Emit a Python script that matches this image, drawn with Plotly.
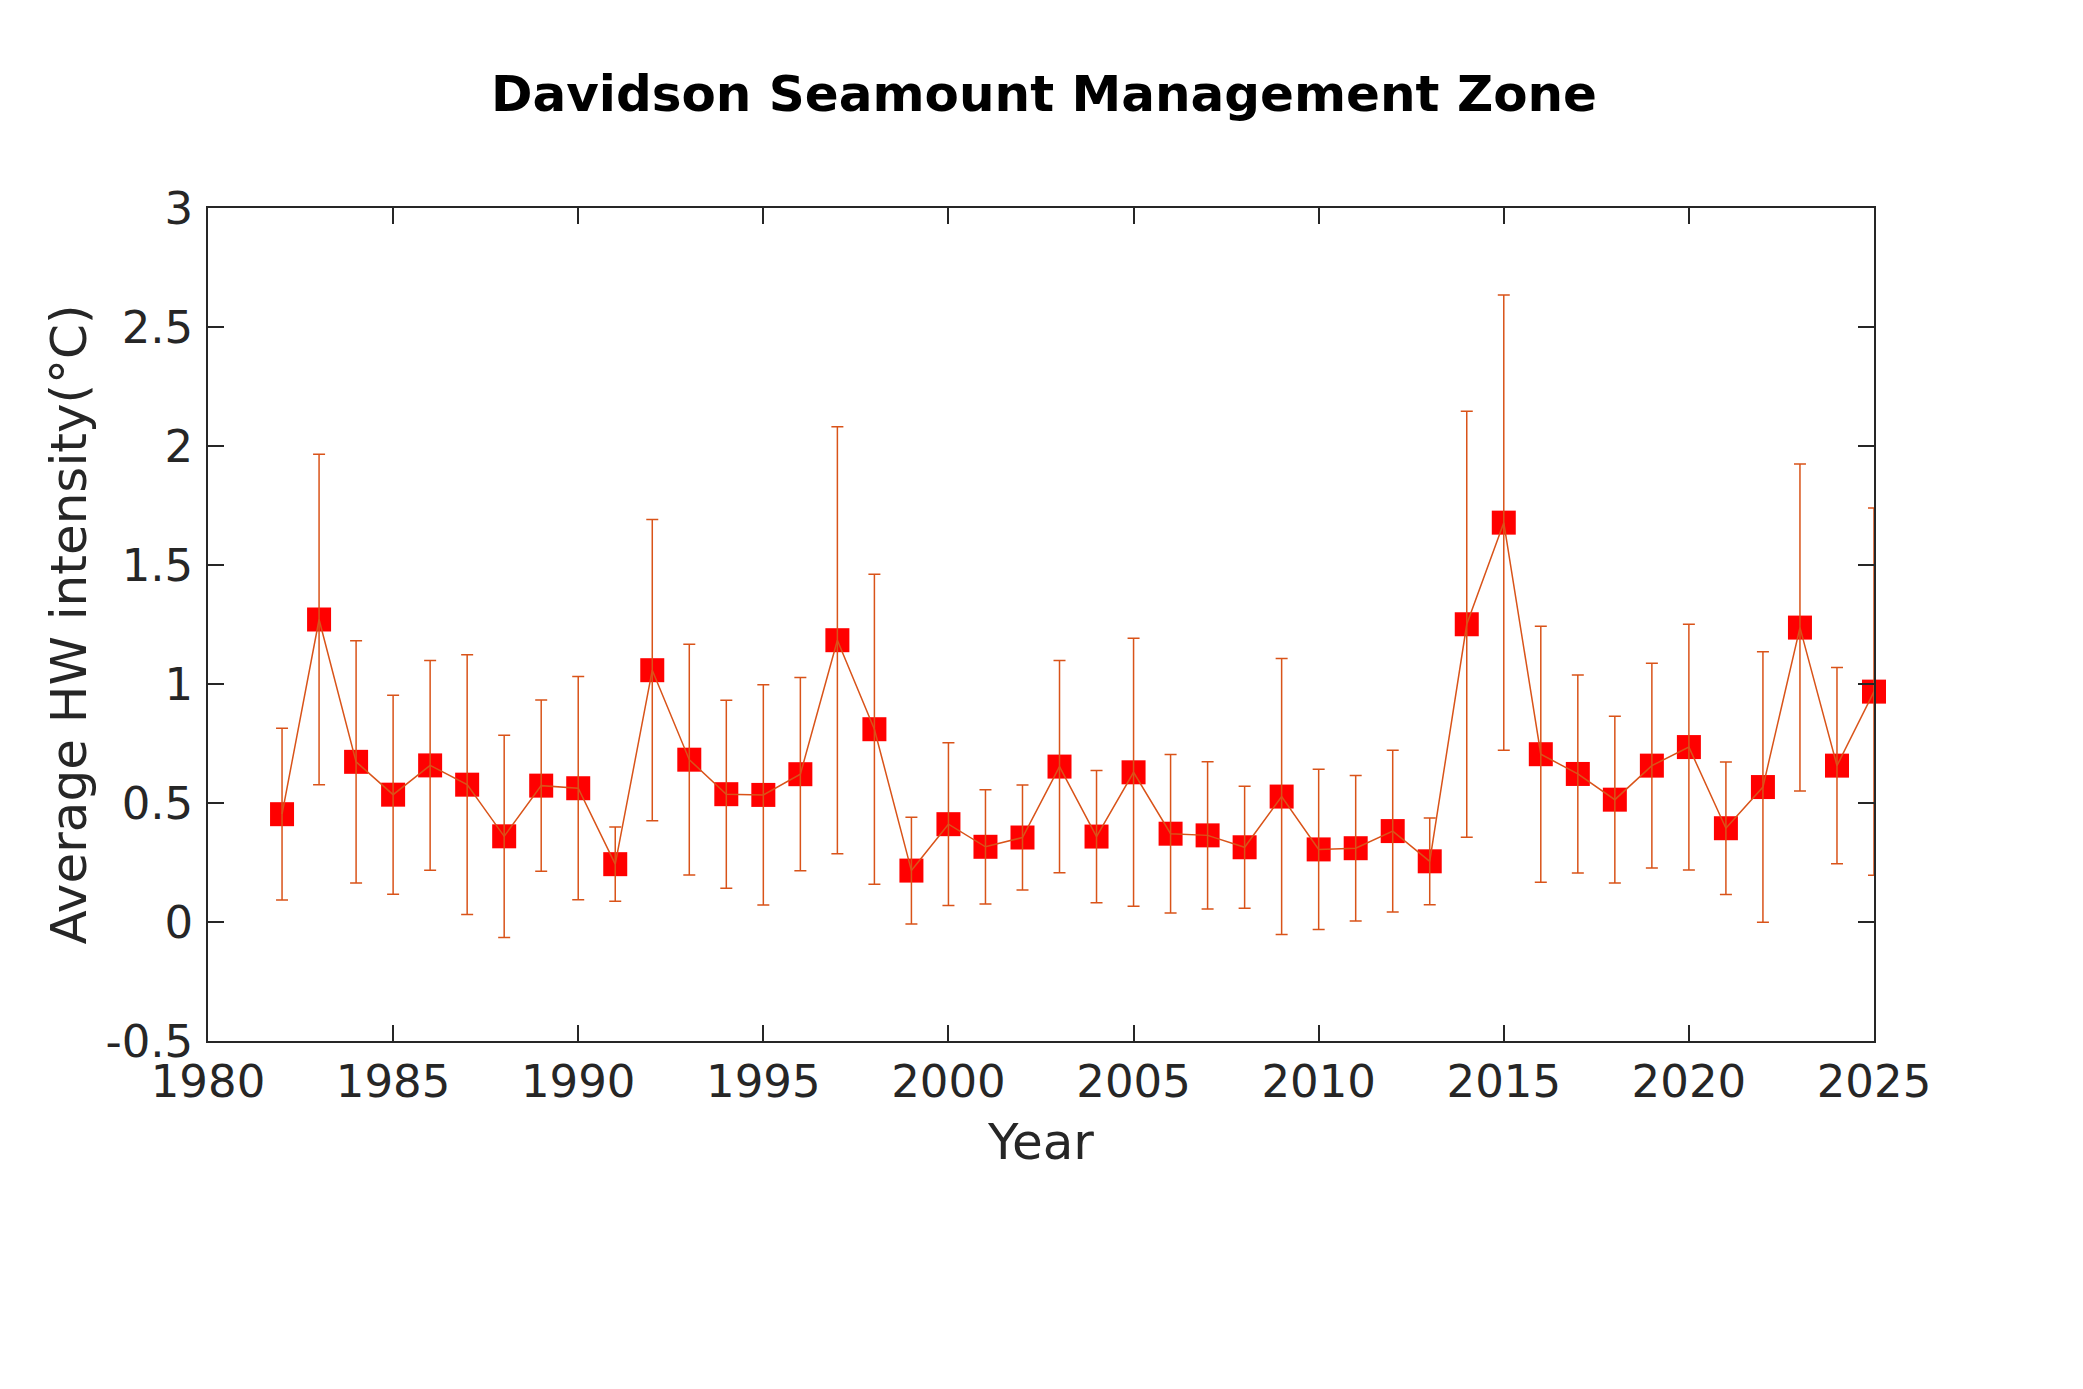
import plotly.graph_objects as go

# yearly mean heatwave intensity and its spread
years = list(range(1982, 2026))
hw_intensity = [0.453, 1.271, 0.673, 0.535, 0.658, 0.577, 0.360, 0.573, 0.562, 0.243,
                1.058, 0.682, 0.537, 0.534, 0.621, 1.184, 0.810, 0.216, 0.411, 0.316,
                0.355, 0.653, 0.359, 0.629, 0.371, 0.364, 0.314, 0.527, 0.305, 0.310,
                0.382, 0.255, 1.251, 1.678, 0.705, 0.622, 0.514, 0.657, 0.735, 0.394,
                0.567, 1.237, 0.657, 0.968]
hw_error = [0.361, 0.694, 0.509, 0.418, 0.441, 0.546, 0.425, 0.360, 0.469, 0.156,
            0.633, 0.485, 0.395, 0.463, 0.406, 0.897, 0.651, 0.224, 0.342, 0.240,
            0.221, 0.446, 0.278, 0.563, 0.333, 0.309, 0.256, 0.580, 0.337, 0.306,
            0.340, 0.182, 0.895, 0.956, 0.538, 0.416, 0.350, 0.430, 0.516, 0.278,
            0.568, 0.687, 0.412, 0.772]

x_ticks = [1980, 1985, 1990, 1995, 2000, 2005, 2010, 2015, 2020, 2025]
y_ticks = [-0.5, 0, 0.5, 1, 1.5, 2, 2.5, 3]
y_tick_text = ["-0.5", "0", "0.5", "1", "1.5", "2", "2.5", "3"]

line_col = "#D95319"
axis_col = "#262626"
font_family = "DejaVu Sans"

fig = go.Figure()

# markers first, so the line and error bars sit on top (as in the original)
fig.add_trace(go.Scatter(
    x=years, y=hw_intensity, mode="markers",
    marker=dict(symbol="square", size=24, color="#FF0000", line=dict(width=0)),
    cliponaxis=False, showlegend=False,
))
fig.add_trace(go.Scatter(
    x=years, y=hw_intensity, mode="lines",
    line=dict(color=line_col, width=1.5),
    error_y=dict(type="data", array=hw_error, visible=True,
                 color=line_col, thickness=1.5, width=6),
    cliponaxis=False, showlegend=False,
))

# page body adds ~8px offset, margins compensate
fig.update_layout(
    width=2083, height=1389,
    margin=dict(l=200, r=217, t=200, b=356),
    paper_bgcolor="white", plot_bgcolor="white",
    font=dict(family=font_family, size=45, color=axis_col),
    title=dict(text="<b>Davidson Seamount Management Zone</b>",
               xref="container", x=1036 / 2083, xanchor="center",
               y=1 - 85 / 1389, yanchor="middle",
               font=dict(family=font_family, size=50, color="black")),
)

fig.update_xaxes(
    range=[1980, 2025], tickvals=x_ticks,
    showline=True, linecolor=axis_col, linewidth=1.5, mirror="ticks",
    ticks="inside", ticklen=16, tickwidth=1.5, tickcolor=axis_col,
    showgrid=False, zeroline=False,
    title=dict(text="Year", font=dict(size=50, color=axis_col), standoff=17),
)
fig.update_yaxes(
    range=[-0.5, 3], tickvals=y_ticks, ticktext=y_tick_text,
    showline=True, linecolor=axis_col, linewidth=1.5, mirror="ticks",
    ticks="inside", ticklen=16, tickwidth=1.5, tickcolor=axis_col,
    showgrid=False, zeroline=False, ticklabelstandoff=4,
    title=dict(text="Average HW intensity(°C)", font=dict(size=50, color=axis_col), standoff=3),
)

fig.write_html("out.html")
